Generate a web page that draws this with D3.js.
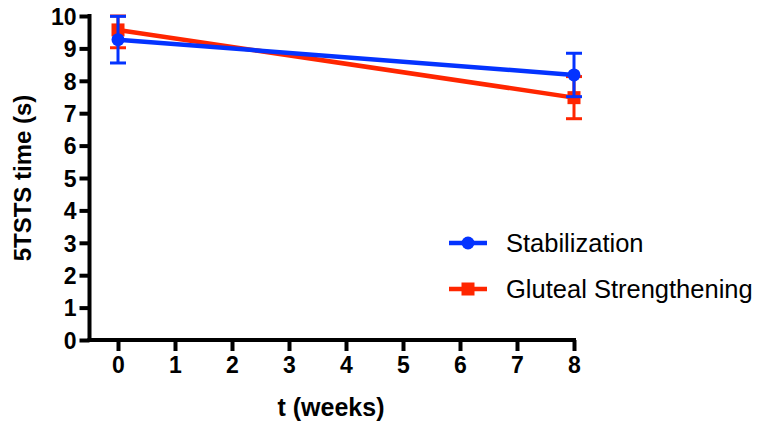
<!DOCTYPE html>
<html>
<head>
<meta charset="utf-8">
<script src="https://cdn.jsdelivr.net/npm/d3@7"></script>
<style>
  body { margin: 0; background: #fff; }
  svg { font-family: "Liberation Sans", Arial, sans-serif; }
</style>
</head>
<body>
<svg id="chart" width="758" height="422"></svg>
<script>
const width = 758,
    height = 422

const weeks = [0, 8]
const stabMean = [9.27, 8.18]
const stabErr = [0.72, 0.67]
const glutMean = [9.57, 7.48]
const glutErr = [0.55, 0.65]
const xTicks = [0, 1, 2, 3, 4, 5, 6, 7, 8]
const yTicks = [0, 1, 2, 3, 4, 5, 6, 7, 8, 9, 10]

const blue = "rgb(4,51,255)"
const red = "rgb(255,38,0)"

const svg = d3.select('#chart')

const x = d3.scaleLinear().domain([-0.5, 8]).range([89.5, 574])
const y = d3.scaleLinear().domain([0, 10]).range([340, 16])

// Axes
const xAxis = d3.axisBottom(x).tickValues(xTicks).tickSize(11).tickSizeOuter(0).tickPadding(6)
const yAxis = d3.axisLeft(y).tickValues(yTicks).tickSize(10).tickSizeOuter(0).tickPadding(3)

const gx = svg.append('g').attr('transform', `translate(0, ${y(0)})`).call(xAxis)
const gy = svg.append('g').attr('transform', `translate(${x(-0.5)}, 0)`).call(yAxis)

for (const g of [gx, gy]) {
    g.select('.domain').attr('stroke-width', 4).attr('stroke', '#000')
    g.selectAll('.tick line').attr('stroke-width', 4).attr('stroke', '#000')
    g.selectAll('.tick text')
        .attr('fill', '#000')
        .style('font-size', '23px')
        .style('font-weight', 'bold')
        .style('font-family', '"Liberation Sans", Arial, sans-serif')
}
// stretch axis lines a bit so the corner is closed
gx.select('.domain').attr('d', `M${x(-0.5) - 2},0H${x(8) + 2}`)
gy.select('.domain').attr('d', `M0,${y(10) - 2}V${y(0) + 2}`)
gy.selectAll('.tick text').attr('dy', '0.36em')

// Axis titles
svg.append('text')
    .attr('x', 331).attr('y', 416)
    .attr('text-anchor', 'middle')
    .style('font-size', '25px').style('font-weight', 'bold')
    .text('t (weeks)')

svg.append('text')
    .attr('transform', `translate(31, ${y(5)}) rotate(-90)`)
    .attr('text-anchor', 'middle')
    .style('font-size', '24px').style('font-weight', 'bold')
    .text('5TSTS time (s)')

const line = d3.line()
    .x(d => x(d.w))
    .y(d => y(d.m))

const series = [
    { name: 'Gluteal Strengthening', color: red, shape: 'square',
      data: weeks.map((w, i) => ({ w: w, m: glutMean[i], e: glutErr[i] })) },
    { name: 'Stabilization', color: blue, shape: 'circle',
      data: weeks.map((w, i) => ({ w: w, m: stabMean[i], e: stabErr[i] })) }
]

// draw red first so blue sits on top
series.forEach(s => {
    const g = svg.append('g')
    g.append('path')
        .datum(s.data)
        .attr('d', line)
        .attr('fill', 'none')
        .attr('stroke', s.color)
        .attr('stroke-width', 4.5)

    // error bars, clipped at the top of the axis
    const eb = g.selectAll('.err').data(s.data).enter().append('g')
    eb.append('line')
        .attr('x1', d => x(d.w)).attr('x2', d => x(d.w))
        .attr('y1', d => y(Math.min(10, d.m + d.e)))
        .attr('y2', d => y(d.m - d.e))
        .attr('stroke', s.color).attr('stroke-width', 3)
    eb.append('line')
        .attr('x1', d => x(d.w) - 8).attr('x2', d => x(d.w) + 8)
        .attr('y1', d => y(Math.min(10, d.m + d.e)))
        .attr('y2', d => y(Math.min(10, d.m + d.e)))
        .attr('stroke', s.color).attr('stroke-width', 3)
    eb.append('line')
        .attr('x1', d => x(d.w) - 8).attr('x2', d => x(d.w) + 8)
        .attr('y1', d => y(d.m - d.e)).attr('y2', d => y(d.m - d.e))
        .attr('stroke', s.color).attr('stroke-width', 3)

    if (s.shape === 'circle') {
        g.selectAll('.pt').data(s.data).enter().append('circle')
            .attr('cx', d => x(d.w)).attr('cy', d => y(d.m)).attr('r', 6.5)
            .attr('fill', s.color)
    } else {
        g.selectAll('.pt').data(s.data).enter().append('rect')
            .attr('x', d => x(d.w) - 6.5).attr('y', d => y(d.m) - 6.5)
            .attr('width', 13).attr('height', 13)
            .attr('fill', s.color)
    }
})

// Legend
const legend = [
    { name: 'Stabilization', color: blue, shape: 'circle', y: 243 },
    { name: 'Gluteal Strengthening', color: red, shape: 'square', y: 289 }
]
legend.forEach(l => {
    svg.append('line')
        .attr('x1', 449).attr('x2', 487)
        .attr('y1', l.y).attr('y2', l.y)
        .attr('stroke', l.color).attr('stroke-width', 4.5)
    if (l.shape === 'circle') {
        svg.append('circle').attr('cx', 468).attr('cy', l.y).attr('r', 6.5).attr('fill', l.color)
    } else {
        svg.append('rect').attr('x', 461.5).attr('y', l.y - 6.5)
            .attr('width', 13).attr('height', 13).attr('fill', l.color)
    }
    svg.append('text')
        .attr('x', 506).attr('y', l.y + 9)
        .style('font-size', '25.5px')
        .text(l.name)
})
</script>
</body>
</html>
